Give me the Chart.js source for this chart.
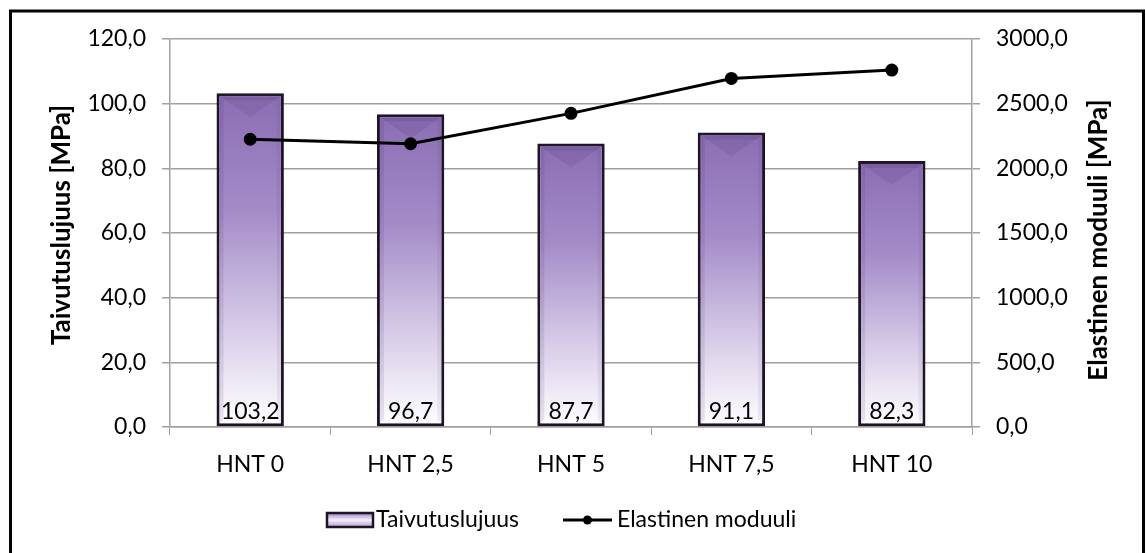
<!DOCTYPE html>
<html>
<head>
<meta charset="utf-8">
<script src="https://cdn.jsdelivr.net/npm/chart.js@4/dist/chart.umd.min.js"></script>
<style>
  html, body { margin: 0; padding: 0; background: #ffffff; }
  #wrap { width: 1146px; height: 553px; }
</style>
</head>
<body>
<div id="wrap"><canvas id="c" width="1146" height="553"></canvas></div>
<script>
// Samples and measured values
const categories = ['HNT 0', 'HNT 2,5', 'HNT 5', 'HNT 7,5', 'HNT 10'];
const taivutuslujuus = [103.2, 96.7, 87.7, 91.1, 82.3];      // MPa, left axis
const elastinenModuuli = [2225, 2190, 2425, 2695, 2760];      // MPa, right axis
const leftTicks = [0, 20, 40, 60, 80, 100, 120];
const rightTicks = [0, 500, 1000, 1500, 2000, 2500, 3000];
const leftTitle = 'Taivutuslujuus [MPa]';
const rightTitle = 'Elastinen moduuli [MPa]';

const FONT = 'Lato, "Open Sans", sans-serif';
const fmt = v => Number(v).toFixed(1).replace('.', ',');

// Per-bar vertical fade: purple at the top, white at the base
function barFill(ctx) {
  const chart = ctx.chart;
  if (!chart.chartArea || ctx.type !== 'data') return '#a48cc8';
  const y = chart.scales.y;
  const top = y.getPixelForValue(ctx.parsed.y);
  const base = y.getPixelForValue(0);
  const g = chart.ctx.createLinearGradient(0, top, 0, base);
  g.addColorStop(0, '#8a6db3');
  g.addColorStop(0.35, '#a48bc8');
  g.addColorStop(0.72, '#d9cfe9');
  g.addColorStop(1, '#ffffff');
  return g;
}

// Outer frame around the whole figure
const framePlugin = {
  id: 'frame',
  afterDraw(chart) {
    const c = chart.ctx;
    c.save();
    c.strokeStyle = '#000';
    c.lineWidth = 3;
    c.strokeRect(10.5, 11, 1133, 560);
    c.restore();
  }
};

// Rotated axis titles, both reading bottom-to-top
const axisTitles = {
  id: 'axisTitles',
  afterDraw(chart) {
    const c = chart.ctx;
    const a = chart.chartArea;
    const mid = (a.top + a.bottom) / 2;
    c.save();
    c.fillStyle = '#000';
    c.font = 'bold 26px ' + FONT;
    c.textAlign = 'center';
    c.textBaseline = 'middle';
    [[leftTitle, 62, mid - 8], [rightTitle, 1099, mid + 7]].forEach(([txt, x, y]) => {
      c.save();
      c.translate(x, y);
      c.rotate(-Math.PI / 2);
      c.fillText(txt, 0, 0);
      c.restore();
    });
    c.restore();
  }
};

// Bevel shading on each bar plus its value label near the base
const barDecor = {
  id: 'barDecor',
  afterDatasetsDraw(chart) {
    const meta = chart.getDatasetMeta(0);
    const c = chart.ctx;
    c.save();
    meta.data.forEach((bar, i) => {
      const p = bar.getProps(['x', 'y', 'base', 'width'], true);
      const l = p.x - p.width / 2 + 2, r = p.x + p.width / 2 - 2;
      const t = p.y + 2, b = p.base - 2;
      const d = 16;
      // top facet
      c.fillStyle = 'rgba(90,60,120,0.16)';
      c.beginPath();
      c.moveTo(l, t); c.lineTo(r, t); c.lineTo(p.x, t + d + 6); c.closePath(); c.fill();
      c.fillStyle = 'rgba(70,40,100,0.12)';
      c.beginPath();
      c.moveTo(l, t); c.lineTo(r, t); c.lineTo(r - 5, t + 5); c.lineTo(l + 5, t + 5); c.closePath(); c.fill();
      // left facet
      c.fillStyle = 'rgba(70,40,100,0.12)';
      c.beginPath();
      c.moveTo(l, t); c.lineTo(l + 5, t + 5); c.lineTo(l + 5, b - 5); c.lineTo(l, b); c.closePath(); c.fill();
      // right facet
      c.fillStyle = 'rgba(70,40,100,0.08)';
      c.beginPath();
      c.moveTo(r, t); c.lineTo(r - 5, t + 5); c.lineTo(r - 5, b - 5); c.lineTo(r, b); c.closePath(); c.fill();
      // value label
      c.fillStyle = '#000';
      c.font = '23px ' + FONT;
      c.textAlign = 'center';
      c.textBaseline = 'middle';
      c.fillText(fmt(taivutuslujuus[i]), p.x, p.base - 15);
    });
    c.restore();
  }
};

// Legend row under the axis
const legendPlugin = {
  id: 'customLegend',
  afterDraw(chart) {
    const c = chart.ctx;
    const ds = chart.data.datasets;
    const cy = 520;
    c.save();
    c.font = '23px ' + FONT;
    c.textBaseline = 'middle';
    c.textAlign = 'left';
    // bar swatch
    const bx = 327, bw = 46, bh = 14;
    const g = c.createLinearGradient(0, cy - bh / 2, 0, cy + bh / 2);
    g.addColorStop(0, '#9a80c2');
    g.addColorStop(0.5, '#f4effa');
    g.addColorStop(1, '#b29dd2');
    c.fillStyle = g;
    c.fillRect(bx, cy - bh / 2, bw, bh);
    c.strokeStyle = '#1e1426';
    c.lineWidth = 2.5;
    c.strokeRect(bx, cy - bh / 2, bw, bh);
    c.fillStyle = '#000';
    c.fillText(ds[0].label, bx + bw + 3, cy);
    // line swatch
    const lx = 563, lw = 49;
    c.strokeStyle = '#000';
    c.lineWidth = 3;
    c.beginPath(); c.moveTo(lx, cy); c.lineTo(lx + lw, cy); c.stroke();
    c.beginPath(); c.arc(lx + lw / 2, cy, 4.5, 0, Math.PI * 2); c.fillStyle = '#000'; c.fill();
    c.fillText(ds[1].label, lx + lw + 5, cy);
    c.restore();
  }
};

new Chart(document.getElementById('c'), {
  data: {
    labels: categories,
    datasets: [
      {
        type: 'bar',
        label: 'Taivutuslujuus',
        data: taivutuslujuus,
        yAxisID: 'y',
        order: 1,
        backgroundColor: barFill,
        borderColor: '#1e1426',
        borderWidth: 3,
        borderSkipped: false,
        barPercentage: 0.42,
        categoryPercentage: 1.0
      },
      {
        type: 'line',
        label: 'Elastinen moduuli',
        data: elastinenModuuli,
        yAxisID: 'y1',
        order: 0,
        borderColor: '#000',
        borderWidth: 3,
        pointRadius: 5,
        pointBackgroundColor: '#000',
        pointBorderColor: '#000',
        tension: 0
      }
    ]
  },
  options: {
    responsive: false,
    animation: false,
    devicePixelRatio: 1,
    layout: { padding: { left: 14, right: 14, top: 39, bottom: 0 } },
    plugins: {
      legend: { display: false },
      tooltip: { enabled: false }
    },
    scales: {
      x: {
        offset: true,
        grid: { offset: true, drawOnChartArea: false, color: '#a0a0a0', tickLength: 8 },
        border: { color: '#a0a0a0', width: 1.5 },
        ticks: { color: '#000', font: { family: FONT, size: 23 }, padding: 16, maxRotation: 0 },
        afterFit(s) { s.height = 126; }
      },
      y: {
        position: 'left',
        min: 0, max: 120,
        afterBuildTicks(s) { s.ticks = leftTicks.map(v => ({ value: v })); },
        grid: { color: '#a0a0a0', lineWidth: 1.5, tickLength: 8 },
        border: { color: '#a0a0a0', width: 1.5 },
        ticks: { color: '#000', font: { family: FONT, size: 23 }, padding: 16, callback: v => fmt(v) },
        afterFit(s) { s.width = 156; }
      },
      y1: {
        position: 'right',
        min: 0, max: 3000,
        afterBuildTicks(s) { s.ticks = rightTicks.map(v => ({ value: v })); },
        grid: { drawOnChartArea: false, color: '#a0a0a0', lineWidth: 1.5, tickLength: 8 },
        border: { color: '#a0a0a0', width: 1.5 },
        ticks: { color: '#000', font: { family: FONT, size: 23 }, padding: 16, callback: v => fmt(v) },
        afterFit(s) { s.width = 160; }
      }
    }
  },
  plugins: [framePlugin, barDecor, axisTitles, legendPlugin]
});
</script>
</body>
</html>
